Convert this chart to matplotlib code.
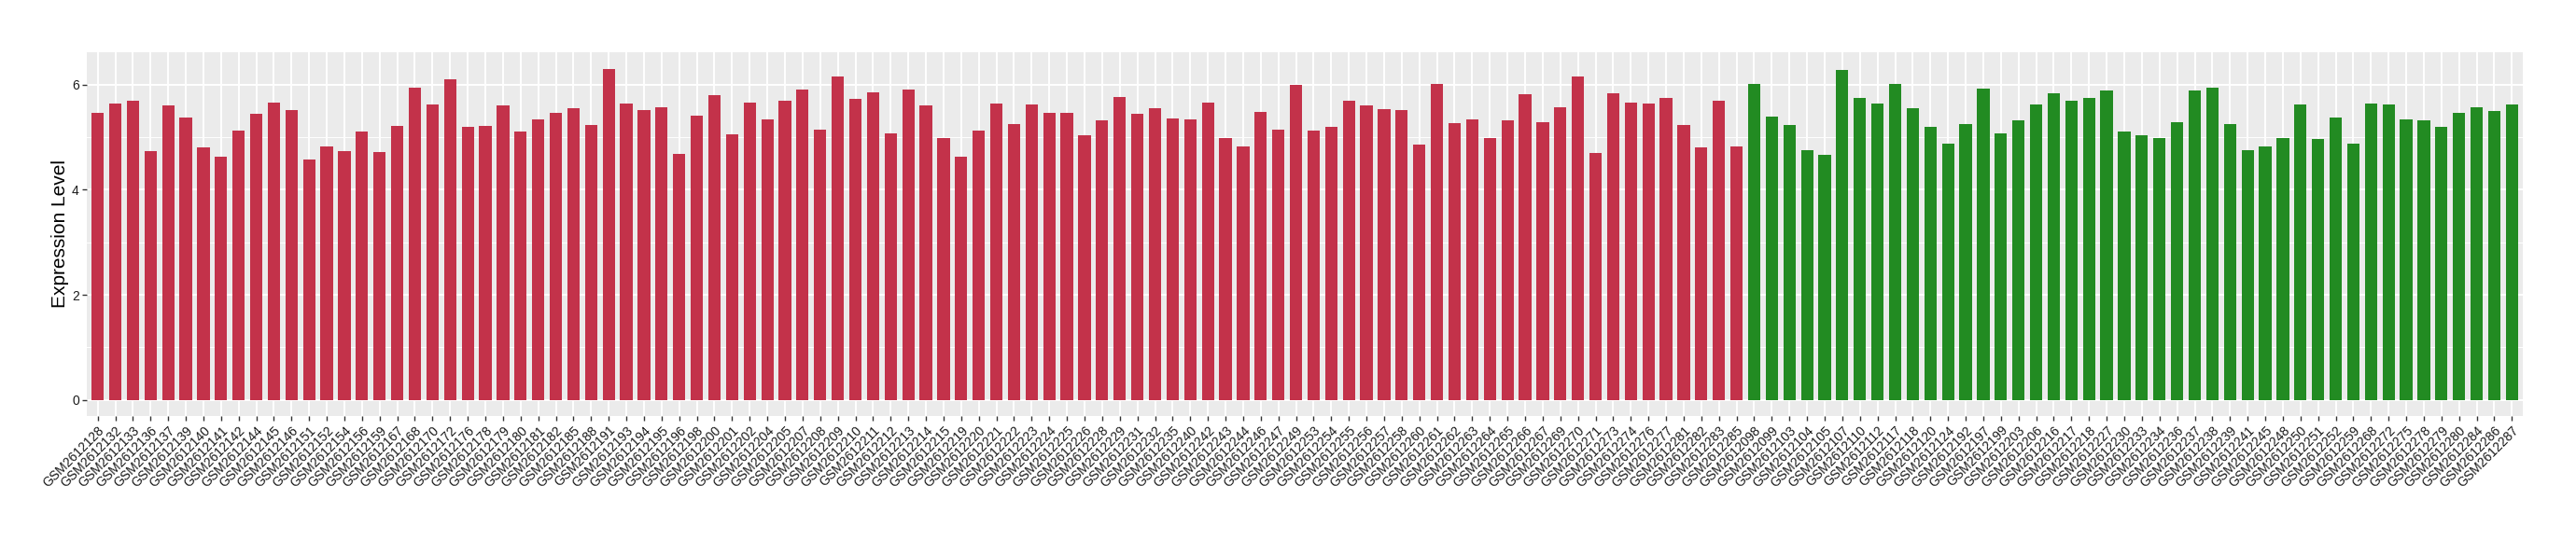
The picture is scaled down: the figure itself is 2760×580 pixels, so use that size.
import matplotlib
matplotlib.use("Agg")
import matplotlib.pyplot as plt
import matplotlib.transforms as mtransforms
import numpy as np

plt.rcParams['font.family'] = ['Liberation Sans', 'DejaVu Sans']

# ---- data ----
red_ids = [2128, 2132, 2133, 2136, 2137, 2139, 2140, 2141, 2142, 2144, 2145, 2146,
           2151, 2152, 2154, 2156, 2159, 2167, 2168, 2170, 2172, 2176, 2178, 2179,
           2180, 2181, 2182, 2185, 2188, 2191, 2193, 2194, 2195, 2196, 2198, 2200,
           2201, 2202, 2204, 2205, 2207, 2208, 2209, 2210, 2211, 2212, 2213, 2214,
           2215, 2219, 2220, 2221, 2222, 2223, 2224, 2225, 2226, 2228, 2229, 2231,
           2232, 2235, 2240, 2242, 2243, 2244, 2246, 2247, 2249, 2253, 2254, 2255,
           2256, 2257, 2258, 2260, 2261, 2262, 2263, 2264, 2265, 2266, 2267, 2269,
           2270, 2271, 2273, 2274, 2276, 2277, 2281, 2282, 2283, 2285]
red_values = [5.46, 5.64, 5.69, 4.73, 5.60, 5.37, 4.80, 4.63, 5.12, 5.45, 5.65, 5.51,
              4.58, 4.83, 4.73, 5.10, 4.71, 5.21, 5.94, 5.62, 6.10, 5.19, 5.21, 5.60,
              5.10, 5.33, 5.46, 5.55, 5.23, 6.30, 5.64, 5.51, 5.57, 4.68, 5.40, 5.80,
              5.05, 5.65, 5.33, 5.69, 5.90, 5.14, 6.15, 5.73, 5.85, 5.07, 5.90, 5.60,
              4.98, 4.63, 5.12, 5.64, 5.24, 5.62, 5.46, 5.46, 5.03, 5.32, 5.76, 5.44,
              5.55, 5.35, 5.33, 5.65, 4.99, 4.82, 5.48, 5.15, 5.99, 5.12, 5.19, 5.69,
              5.60, 5.53, 5.51, 4.85, 6.01, 5.26, 5.33, 4.99, 5.32, 5.82, 5.28, 5.57,
              6.15, 4.69, 5.83, 5.65, 5.64, 5.74, 5.23, 4.80, 5.69, 4.83]
green_ids = [2098, 2099, 2103, 2104, 2105, 2107, 2110, 2112, 2117, 2118, 2120, 2124,
             2192, 2197, 2199, 2203, 2206, 2216, 2217, 2218, 2227, 2230, 2233, 2234,
             2236, 2237, 2238, 2239, 2241, 2245, 2248, 2250, 2251, 2252, 2259, 2268,
             2272, 2275, 2278, 2279, 2280, 2284, 2286, 2287]
green_values = [6.01, 5.39, 5.23, 4.75, 4.67, 6.28, 5.74, 5.64, 6.01, 5.55, 5.19, 4.87,
                5.24, 5.92, 5.07, 5.32, 5.62, 5.83, 5.69, 5.74, 5.89, 5.10, 5.03, 4.99,
                5.28, 5.89, 5.94, 5.24, 4.75, 4.83, 4.99, 5.62, 4.96, 5.37, 4.88, 5.64,
                5.62, 5.33, 5.32, 5.19, 5.46, 5.57, 5.49, 5.62]
y_ticks = [0, 2, 4, 6]
y_label = "Expression Level"

red_color = "#C3324A"
green_color = "#228B22"

labels = ["GSM261%d" % i for i in red_ids] + ["GSM261%d" % i for i in green_ids]
values = red_values + green_values
colors = [red_color] * len(red_values) + [green_color] * len(green_values)
x = np.arange(len(values))

W, H = 2760, 580
fig = plt.figure(figsize=(W / 100, H / 100), dpi=100)
left, right, top, bottom = 93.3, 2702.7, 56.0, 445.7
ax = fig.add_axes([left / W, 1 - bottom / H, (right - left) / W, (bottom - top) / H])
ax.set_facecolor("#EBEBEB")

ax.bar(x, values, width=0.7, color=colors, zorder=3)

ax.set_xlim(-0.6, len(values) - 1 + 0.6)
ax.set_ylim(-0.3, 6.615)

ax.set_yticks(y_ticks)
ax.set_yticks([1, 3, 5], minor=True)
ax.set_xticks(x)
ax.set_xticklabels(labels, rotation=45, ha="right", va="top",
                   rotation_mode="anchor", fontsize=10, color="#1A1A1A")
offset = mtransforms.ScaledTranslation(4 / 100, 0, fig.dpi_scale_trans)
for lab in ax.get_xticklabels():
    lab.set_transform(lab.get_transform() + offset)
ax.tick_params(axis="y", labelsize=10, labelcolor="#1A1A1A")
ax.tick_params(which="major", length=3.6, width=1.0, color="#333333", pad=2.5)
ax.tick_params(which="minor", length=0)

ax.grid(which="major", color="white", linewidth=1.4, zorder=0)
ax.grid(which="minor", axis="y", color="white", linewidth=0.7, zorder=0)
ax.set_axisbelow(True)

for s in ax.spines.values():
    s.set_visible(False)

ax.set_ylabel(y_label, fontsize=15, color="black", labelpad=2)

fig.savefig("out.png", dpi=100)
